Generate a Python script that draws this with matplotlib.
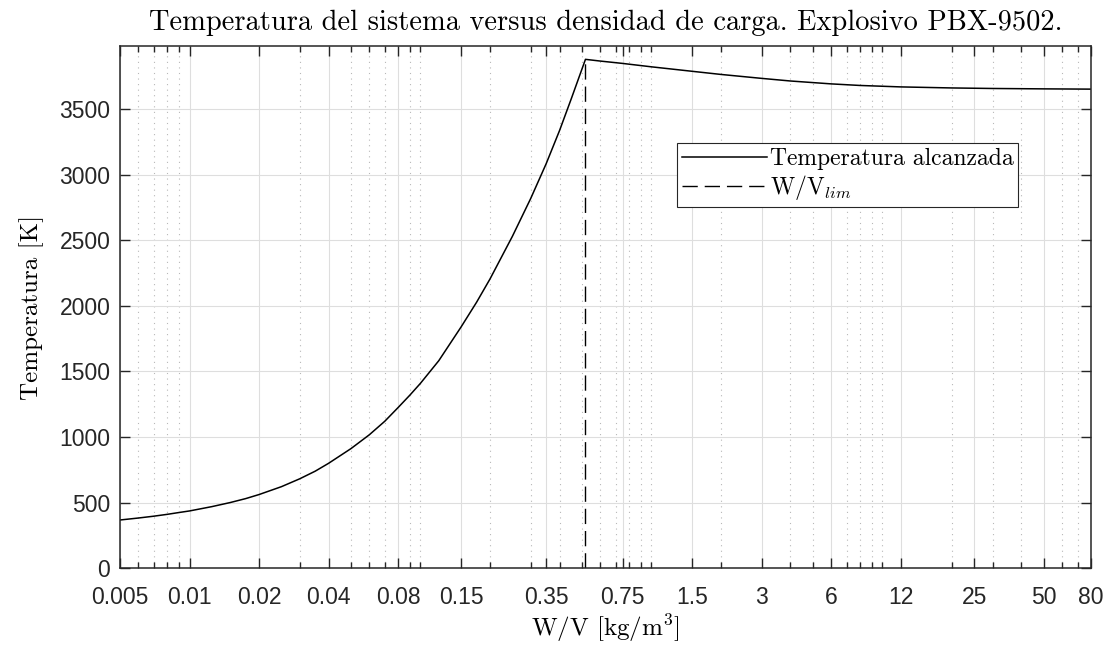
import numpy as np
import matplotlib
matplotlib.use("Agg")
import matplotlib.pyplot as plt
from matplotlib.ticker import FixedLocator, NullFormatter

matplotlib.rcParams.update({
    "font.family": "Liberation Sans",
    "mathtext.fontset": "cm",
    "axes.unicode_minus": False,
})

# Densidad de carga W/V [kg/m3] y temperatura alcanzada [K]
wv_sub = [0.005, 0.006, 0.007, 0.008, 0.009, 0.01, 0.0125, 0.015, 0.0175, 0.02,
          0.025, 0.03, 0.035, 0.04, 0.05, 0.06, 0.07, 0.08, 0.09, 0.1, 0.12,
          0.15, 0.175, 0.2, 0.25, 0.3, 0.35, 0.4, 0.45, 0.518]
t_sub = [368, 383, 397, 411, 425, 437, 470, 501, 531, 562,
         622, 682, 740, 800, 912, 1017, 1120, 1225, 1320, 1410, 1582,
         1840, 2028, 2205, 2530, 2818, 3083, 3336, 3580, 3879]

wv_sob = [0.518, 0.6, 0.75, 1, 1.5, 2, 3, 4, 6, 8, 12, 20, 30, 50, 80]
t_sob = [3879, 3866, 3848, 3822, 3788, 3764, 3734, 3714, 3692, 3680, 3669,
         3661, 3657, 3654, 3652]

wv_lim = 0.518

xticks = [0.005, 0.01, 0.02, 0.04, 0.08, 0.15, 0.35, 0.75, 1.5, 3, 6, 12, 25, 50, 80]
xticklabels = ["0.005", "0.01", "0.02", "0.04", "0.08", "0.15", "0.35", "0.75",
               "1.5", "3", "6", "12", "25", "50", "80"]
yticks = [0, 500, 1000, 1500, 2000, 2500, 3000, 3500]

wv = wv_sub + wv_sob[1:]
temp = t_sub + t_sob[1:]

CM = "cmr10"

fig = plt.figure(figsize=(11.12, 6.52), dpi=100)
ax = fig.add_axes([0.1079, 0.1284, 0.8732, 0.8015])

ax.plot(wv, temp, color="black", lw=1.1, label="Temperatura alcanzada")
ax.plot([wv_lim, wv_lim], [0, max(temp)], color="black", lw=1.0,
        dashes=(11, 5), label=r"W/V$_{lim}$")

ax.set_xscale("log")
ax.set_xlim(0.005, 80)
ax.set_ylim(0, 3983)

# ticks mayores etiquetados + menores logarítmicos
minors = [k * 10.0**e for e in range(-3, 2) for k in range(1, 10)]
minors = [m for m in minors if 0.005 < m < 80 and
          not any(abs(m - t) / t < 1e-6 for t in xticks)]
ax.xaxis.set_major_locator(FixedLocator(xticks))
ax.xaxis.set_minor_locator(FixedLocator(minors))
ax.xaxis.set_minor_formatter(NullFormatter())
ax.set_xticklabels(xticklabels)
ax.set_yticks(yticks)

ax.tick_params(which="both", direction="in", top=True, right=True,
               labelsize=16.5, colors="#262626", width=1.0)
ax.tick_params(which="major", length=7)
ax.tick_params(which="minor", length=4.2)
ax.tick_params(axis="x", pad=13)
ax.tick_params(axis="y", pad=7)
for lbl in ax.get_xticklabels() + ax.get_yticklabels():
    lbl.set_color("#262626")

ax.grid(which="major", color="#dedede", lw=0.8, ls="-")
ax.grid(which="minor", axis="x", color="#b8b8b8", lw=0.8, ls=(0, (1, 4)))
ax.set_axisbelow(True)
for s in ax.spines.values():
    s.set_color("#262626")
    s.set_linewidth(1.1)

ax.set_title("Temperatura del sistema versus densidad de carga. Explosivo PBX-9502.",
             fontfamily=CM, fontsize=20.5, pad=11)
ax.set_xlabel(r"W/V [kg/m$^3$]", fontfamily=CM, fontsize=18, labelpad=2)
ax.set_ylabel("Temperatura [K]", fontfamily=CM, fontsize=18, labelpad=11)

leg = ax.legend(loc="upper left", bbox_to_anchor=(0.5736, 0.8138),
                prop={"family": CM, "size": 17}, handlelength=3.6,
                handletextpad=0.12, borderpad=0.2, labelspacing=0.15,
                borderaxespad=0, fancybox=False, framealpha=1,
                edgecolor="#262626")
leg.get_frame().set_linewidth(0.8)

fig.savefig("out.png", dpi=100)
